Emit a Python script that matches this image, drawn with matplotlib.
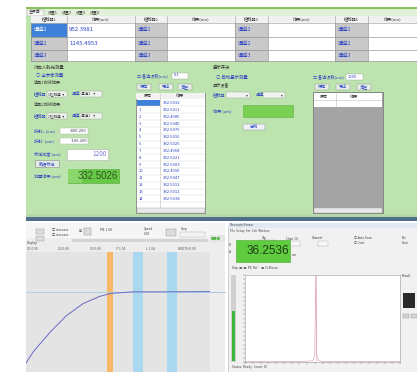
import matplotlib
matplotlib.use('Agg')
import matplotlib.pyplot as plt
from matplotlib.patches import Rectangle

plt.rcParams['font.family'] = ['Noto Sans CJK SC', 'DejaVu Sans']

# ---------------- data ----------------
tabs = ['主界面', '设置1', '设置2', '设置3', '设置4']
controllers = ['控制器1', '控制器2', '控制器3', '控制器4']
result_header = '结果(um)'
channels = ['通道1', '通道2', '通道3']
ctrl1_results = ['952.3981', '1145.4953', '']
offset_plus = '-400.200'
offset_minus = '-106.200'
calib_value = '1200'
measured_value = '332.5026'
step_left = '0.1'
step_right = '1000'
list_index = ['', '1', '2', '3', '4', '5', '6', '7', '8', '9', '10', '11', '12', '13', '14']
list_values = ['332.5032', '332.5011', '332.4985', '332.5040', '332.5079', '332.5016',
               '332.5026', '332.4968', '332.5021', '332.5003', '332.4990', '332.5047',
               '332.5013', '332.5012', '332.5038']

# position curve (bottom-left window), x in %, y in signal %
curve_x = [0, 4, 13, 22, 31, 40, 46, 58, 75, 100]
curve_y = [7.5, 17, 33, 47, 57, 63, 65.5, 66.8, 66.8, 67.0]
ref_level = 66.8
orange_band = (44.0, 47.5)
blue_bands = [(58.0, 63.5), (76.5, 82.0)]

# spectrum (bottom-right window)
display_value = '36.2536'
spec_x = [0, 20, 40, 60, 70, 72, 73, 74, 76, 80, 100, 120, 140, 160]
spec_y = [0.5, 0.6, 0.5, 0.7, 1.5, 8, 100, 8, 1.5, 0.7, 0.5, 0.6, 0.5, 0.5]

# ---------------- helpers ----------------
W, H = 417, 372
fig = plt.figure(figsize=(W / 100, H / 100), dpi=100)
ax = fig.add_axes([0, 0, 1, 1])
ax.set_xlim(0, W)
ax.set_ylim(H, 0)
ax.axis('off')

BLUE_T = '#2f46c4'
DARK_T = '#3a3a3a'


def rect(x0, y0, x1, y1, fc, ec='none', lw=0.5, z=1):
    ax.add_patch(Rectangle((x0, y0), x1 - x0, y1 - y0, facecolor=fc,
                           edgecolor=ec, linewidth=lw, zorder=z))


def txt(x, y, s, size=3.4, color=DARK_T, ha='left', z=5, **kw):
    ax.text(x, y, s, fontsize=size, color=color, ha=ha, va='center', zorder=z, **kw)


def px_axes(x0, y0, x1, y1):
    return fig.add_axes([x0 / W, 1 - y1 / H, (x1 - x0) / W, (y1 - y0) / H])


# ---------------- top window ----------------
rect(26, 8, W, 218, '#bde4ae')
rect(26, 7, W, 9, '#86c35a')
rect(26, 9, W, 15.5, '#e2f0da')
tab_x = [27, 46, 60, 74, 88]
for i, (tx, t) in enumerate(zip(tab_x, tabs)):
    if i == 0:
        rect(tx, 9.5, tx + 17, 15.5, '#f6f6f6', ec='#9a9a9a', lw=0.3)
    txt(tx + 2, 12.5, t, size=2.8, color='#333333')

# table
col_edges = [31, 67, 135, 167, 235, 268, 335, 368, W]
row_edges = [16, 22.5, 37, 50, 61]
rect(31, 16, W, 61, 'white', ec='#7a7a7a', lw=0.5, z=2)
rect(31, 16, W, 22.5, '#f1f1f1', z=2)
for ci in range(len(col_edges) - 1):
    x0, x1 = col_edges[ci], col_edges[ci + 1]
    head = controllers[ci // 2] if ci % 2 == 0 else result_header
    txt((x0 + x1) / 2, 19.2, head, size=3.0, ha='center', z=6)
    for ri in range(3):
        y0, y1 = row_edges[ri + 1], row_edges[ri + 2]
        if ci % 2 == 0:
            fc = '#3f80d8' if (ci == 0 and ri == 0) else '#c9c9c9'
            rect(x0, y0, x1, y1, fc, ec='#8a8a8a', lw=0.4, z=3)
            txt(x0 + 3, (y0 + y1) / 2, channels[ri], size=3.8,
                color='white' if (ci == 0 and ri == 0) else BLUE_T, z=6)
        else:
            rect(x0, y0, x1, y1, 'white', ec='#9a9a9a', lw=0.4, z=3)
            if ci == 1:
                txt(x0 + 2, (y0 + y1) / 2, ctrl1_results[ri], size=4.3, color=BLUE_T, z=6)
for x in col_edges[1:-1]:
    ax.plot([x, x], [16, 22.5], color='#9a9a9a', lw=0.4, zorder=4)

# left group
txt(34, 67, '对应入射光测量', size=3.2)
txt(36, 75.5, '○ 全参考测量', size=3.2, color=BLUE_T)
txt(34, 83, '选择1测试结果', size=3.0)
for yy in (94, 116):
    txt(34, yy, '控制器', size=3.0, color=BLUE_T)
    rect(47, yy - 3, 67, yy + 3, '#eef4ee', ec='#9a9a9a', lw=0.3)
    txt(48, yy, '1控制器  ▾', size=2.6)
    txt(72, yy, '通道', size=3.0, color=BLUE_T)
    rect(80, yy - 3, 102, yy + 3, '#eef4ee', ec='#9a9a9a', lw=0.3)
    txt(81, yy, '通道1    ▾', size=2.6)
txt(34, 105, '选择2测试结果', size=3.0)
txt(34, 131, '折射+ (um)', size=3.0, color=BLUE_T)
rect(60, 128, 88, 134, 'white', ec='#b0b0b0', lw=0.3)
txt(87, 131, offset_plus, size=3.0, ha='right')
txt(34, 141, '折射- (um)', size=3.0, color=BLUE_T)
rect(60, 138, 88, 144, 'white', ec='#b0b0b0', lw=0.3)
txt(87, 141, offset_minus, size=3.0, ha='right')
txt(34, 154, '标定测度 (um)', size=3.0, color=BLUE_T)
rect(67, 149, 108, 160, 'white', ec='#b0b0b0', lw=0.4)
txt(107, 154.5, calib_value, size=4.6, color='#7a7ad0', ha='right')
rect(35, 160, 59, 167, '#e4ece4', ec='#8a8a8a', lw=0.4)
txt(47, 163.5, '数据标定', size=3.0, ha='center', color=BLUE_T)
txt(34, 176, '测量结果 (um)', size=3.0, color=BLUE_T)
rect(68, 169, 119, 183, '#68c848', ec='#58a83c', lw=0.4)
rect(68, 169, 82, 183, '#8ad86c', z=1.5)
txt(118, 176, measured_value, size=7.0, color='#2e5a20', ha='right',
    family=['Liberation Sans', 'DejaVu Sans'])

# middle list
txt(137, 75.5, '□ 备选项数(um)', size=3.0, color=BLUE_T)
rect(172, 72.5, 188, 78.5, 'white', ec='#a0a0a0', lw=0.3)
txt(174, 75.5, step_left, size=3.0, color=BLUE_T)
for bx, bt in zip([137, 159, 178], ['保存', '导出', '清空']):
    rect(bx, 83.5, bx + 14, 89.5, '#e6eee6', ec='#8a8a8a', lw=0.3)
    txt(bx + 7, 86.5, bt, size=3.0, ha='center', color=BLUE_T)
rect(136.5, 93, 205, 213, 'white', ec='#707070', lw=0.5, z=2)
rect(136.5, 93, 205, 99, '#f2f2f2', z=2)
txt(144, 96, '序号', size=3.0, z=6)
txt(176, 96, '结果', size=3.0, z=6)
row_h = 6.85
for i, (idx, val) in enumerate(zip(list_index, list_values)):
    yc = 103 + i * row_h
    if i == 0:
        rect(137, yc - 3, 160, yc + 3, '#3f80d8', z=3)
    ax.plot([137, 205], [yc + 3.4, yc + 3.4], color='#d8d8d8', lw=0.3, zorder=3)
    txt(139, yc, idx, size=3.0, color=BLUE_T, z=6)
    txt(163, yc, val, size=3.0, color=BLUE_T, z=6)
ax.plot([160, 160], [93, 208], color='#c0c0c0', lw=0.4, zorder=4)
rect(137, 208, 205, 213, '#e8e8e8', ec='#a0a0a0', lw=0.3, z=4)

# right group
txt(213, 67, '显示开关', size=3.2)
txt(216, 77, '○ 启动显示测量', size=3.2, color=BLUE_T)
txt(213, 85, '显示设备', size=3.0)
txt(213, 95, '控制器', size=3.0, color=BLUE_T)
rect(226, 92, 250, 98, '#eef4ee', ec='#9a9a9a', lw=0.3)
txt(248, 95, '▾', size=2.6, ha='right')
txt(256, 95, '通道', size=3.0, color=BLUE_T)
rect(263, 92, 285, 98, '#eef4ee', ec='#9a9a9a', lw=0.3)
txt(283, 95, '▾', size=2.6, ha='right')
txt(213, 111, '结果 (um)', size=3.0, color=BLUE_T)
rect(243, 105, 293, 117, '#78d055', ec='#60b044', lw=0.4)
rect(243, 124, 265, 130, '#eef0f6', ec='#8a8a8a', lw=0.3)
txt(254, 127, '启动', size=3.0, ha='center', color=BLUE_T)

# right list
txt(313, 77, '□ 备选项数(um)', size=3.0, color=BLUE_T)
rect(346, 74, 363, 80, 'white', ec='#a0a0a0', lw=0.3)
txt(348, 77, step_right, size=3.0, color=BLUE_T)
for bx, bt in zip([315, 336, 357], ['保存', '导出', '清空']):
    rect(bx, 83.5, bx + 14, 89.5, '#e6eee6', ec='#8a8a8a', lw=0.3)
    txt(bx + 7, 86.5, bt, size=3.0, ha='center', color=BLUE_T)
rect(313, 92, 383, 213, '#a4a4a4', ec='#707070', lw=0.5, z=2)
rect(314, 93, 382, 107, 'white', z=2)
ax.plot([336, 336], [93, 107], color='#c0c0c0', lw=0.4, zorder=3)
ax.plot([314, 382], [100, 100], color='#c0c0c0', lw=0.4, zorder=3)
txt(320, 96.5, '序号', size=3.0, z=6)
txt(350, 96.5, '结果', size=3.0, z=6)
rect(314, 208, 382, 212.5, '#e8e8e8', ec='#a0a0a0', lw=0.3, z=4)

# bottom bar of top window
rect(26, 214, W, 217, '#b7d7a8')
rect(26, 217, W, 221, '#4f6f8a')

# ---------------- bottom-left window ----------------
rect(26, 223, 225, H, '#ededed')
rect(26, 223, 225, 238, '#f5f5f5')
rect(36, 229, 44, 234, '#dddddd', ec='#999999', lw=0.3)
rect(36, 236, 44, 241, '#dddddd', ec='#999999', lw=0.3)
txt(52, 230, '□ increase', size=2.3)
txt(52, 234.5, '□ increase', size=2.3)
rect(84, 228, 91, 235, '#dcdcdc', ec='#888888', lw=0.3)
txt(79, 231.5, 'AB', size=2.3)
txt(100, 230, 'PB: 1.00', size=2.3)
txt(144, 229, 'Speed', size=2.3)
txt(144, 234, '1.00', size=2.3)
rect(166, 229, 176, 236, '#dcdcdc', ec='#888888', lw=0.3)
txt(181, 229, 'Step', size=2.3)
rect(180, 232, 205, 237, '#f4f4f4', ec='#aaaaaa', lw=0.3)
rect(72, 239, 208, 242, '#d4d4d4')
txt(27, 243, 'Display', size=2.3)
for lx, lt in zip([27, 58, 90, 116, 146, 178],
                  ['X1 0.00', 'X2 0.00', 'X3 0.00', 'P 1.04', 'L 1.04', 'WIDTH 0.00']):
    txt(lx, 248.5, lt, size=2.4, color='#555555')
rect(210, 235, 225, 242, '#e4e4e4')
txt(211, 238.5, '■■■', size=2.4, color='#5ab84a')
ax.plot([210, 225], [292.3, 292.3], color='#9fc4df', lw=0.6, zorder=3)

a1 = px_axes(26, 252, 210, H)
a1.set_facecolor('#e4e4e4')
a1.set_xlim(0, 100)
a1.set_ylim(0, 100)
a1.axvspan(orange_band[0], orange_band[1], color='#f9b865', lw=0)
for b in blue_bands:
    a1.axvspan(b[0], b[1], color='#a9d8ef', lw=0)
a1.axhline(ref_level, color='#9fd3e0', lw=0.6)
a1.plot(curve_x, curve_y, color='#6a68c8', lw=0.7)
a1.set_xticks([])
a1.set_yticks([])
for s in a1.spines.values():
    s.set_visible(False)

# ---------------- bottom-right window ----------------
rect(228, 223, W, H, '#f1f1f1', ec='#b0b0b0', lw=0.4)
rect(228, 223, W, 228, '#dfe8f3')
txt(230, 225.5, 'ChromaticSensor', size=2.2, color='#444444')
txt(230, 231, 'File  Setup  Set  Cali  Window', size=2.2, color='#444444')
txt(262, 238.5, 'Cfg', size=2.2)
rect(258, 240, 276, 244, '#f8f8f8', ec='#aaaaaa', lw=0.3)
txt(286, 238.5, 'Chan  Ch', size=2.2)
rect(284, 241, 300, 245.5, '#f8f8f8', ec='#aaaaaa', lw=0.3)
txt(312, 238, 'Channel', size=2.2)
rect(318, 241, 328, 245.5, '#f8f8f8', ec='#aaaaaa', lw=0.3)
txt(354, 238, '○ Auto Scan', size=2.2)
txt(354, 243, '○ Cont', size=2.2)
txt(402, 238, 'Rec', size=2.2)
txt(402, 243, 'Cont', size=2.2)
txt(229, 245, 'D', size=2.3)
txt(229, 252, 'A', size=2.3)
rect(236, 240, 290, 262, '#5fcc3f', ec='#4aa832', lw=0.4)
txt(289, 251, display_value, size=8.5, color='#1f3a14', ha='right',
    family=['Liberation Sans', 'DejaVu Sans'])
txt(292, 255, 'um', size=2.4, color='#444444')
txt(232, 268, 'Disp  □  □  PB  Ref      □ Ch Maxim', size=2.2, color='#444444')
txt(402, 276, 'Result', size=2.3)
rect(231, 275, 236, 362, '#d0d0d0')
rect(232, 311, 235, 361, '#3fb83a')
rect(403, 293, 415, 308, '#2a2a2a')
rect(403, 314, 409, 318, '#d4d4d4', ec='#999999', lw=0.3)
rect(411, 314, 417, 318, '#d4d4d4', ec='#999999', lw=0.3)
txt(232, 367, 'Status   Ready   Count: 10', size=2.2, color='#444444')

a2 = px_axes(245, 275, 400, 362)
a2.set_facecolor('white')
a2.set_xlim(0, 160)
a2.set_ylim(0, 100)
a2.axvline(73, color='#f4c4c4', lw=0.6)
a2.plot(spec_x, spec_y, color='#d8a0b8', lw=0.45)
a2.set_xticks(range(0, 161, 8))
a2.set_yticks(range(0, 101, 5))
a2.tick_params(length=1.5, width=0.3, labelsize=1.8, colors='#666666', pad=0.5)
a2.set_xticklabels([])
a2.set_yticklabels([])
for s in a2.spines.values():
    s.set_color('#9a9a9a')
    s.set_linewidth(0.4)

fig.savefig('out.png', dpi=100)
